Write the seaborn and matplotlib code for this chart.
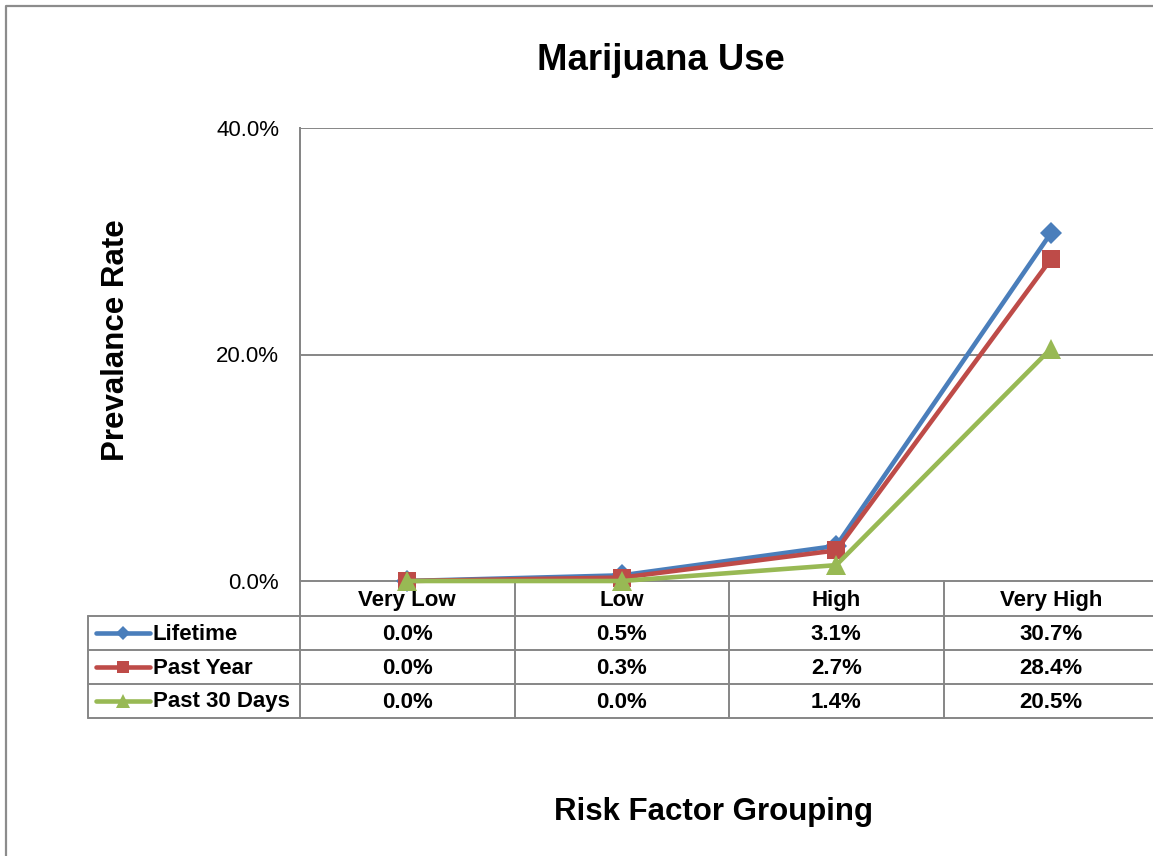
import matplotlib
matplotlib.use("Agg")
import matplotlib.pyplot as plt
import seaborn as sns
import pandas as pd

# Data
categories = ["Very Low", "Low", "High", "Very High"]
lifetime = [0.0, 0.5, 3.1, 30.7]
past_year = [0.0, 0.3, 2.7, 28.4]
past_30_days = [0.0, 0.0, 1.4, 20.5]
series_names = ["Lifetime", "Past Year", "Past 30 Days"]
y_ticks = [0, 20, 40]

colors = {"Lifetime": "#4A7EBB", "Past Year": "#BE4B48", "Past 30 Days": "#98B954"}
markers = {"Lifetime": "D", "Past Year": "s", "Past 30 Days": "^"}
msizes = {"Lifetime": 11, "Past Year": 13, "Past 30 Days": 15}

rows = []
for name, vals in zip(series_names, [lifetime, past_year, past_30_days]):
    for c, v in zip(categories, vals):
        rows.append({"Group": c, "Rate": v, "Series": name})
df = pd.DataFrame(rows)

sns.set_theme(style="white")
plt.rcParams["font.family"] = ["Liberation Sans", "DejaVu Sans"]

W, H = 1153, 856
fig = plt.figure(figsize=(W / 100, H / 100), dpi=100)

# background overlay in pixel coordinates for frame, table and labels
bg = fig.add_axes([0, 0, 1, 1], zorder=0)
bg.set_xlim(0, W)
bg.set_ylim(H, 0)
bg.axis("off")

x0, x1 = 300, 1158
y_top, y_bot = 128, 581
ax = fig.add_axes([x0 / W, 1 - y_bot / H, (x1 - x0) / W, (y_bot - y_top) / H], zorder=2)
ax.patch.set_alpha(0)

sns.lineplot(data=df, x="Group", y="Rate", hue="Series", style="Series",
             palette=colors, markers=markers, dashes=False, sort=False,
             linewidth=3.3, markeredgewidth=0, legend=False, ax=ax)
for line, name in zip(ax.get_lines(), series_names):
    line.set_markersize(msizes[name])
    line.set_clip_on(False)

ax.set_xlim(-0.5, len(categories) - 0.5)
ax.set_ylim(0, 40)
ax.set_yticks(y_ticks)
ax.set_yticklabels([f"{t:.1f}%" for t in y_ticks], fontsize=16, color="#000000")
ax.set_xticks([])
ax.set_xlabel("")
ax.set_ylabel("")
ax.tick_params(axis="y", length=0, pad=15)
for t in y_ticks[1:]:
    ax.axhline(t, color="#868686", lw=1.4, zorder=0)
for s in ["top", "right", "bottom"]:
    ax.spines[s].set_visible(False)
ax.spines["left"].set_color("#868686")
ax.spines["left"].set_linewidth(1.4)

grid = "#868686"
lw = 1.4
# outer chart frame
bg.plot([6, 6, W + 5], [H + 5, 6, 6], color="#8C8C8C", lw=1.6)

# data table
col_w = (x1 - x0) / len(categories)
row_edges = [581, 616, 650, 684, 718]
leg_x = 88
bg.plot([x0, x0], [y_top, row_edges[-1]], color=grid, lw=lw)
bg.plot([x0, x1], [row_edges[0], row_edges[0]], color=grid, lw=lw)
for ye in row_edges[1:]:
    bg.plot([leg_x, x1], [ye, ye], color=grid, lw=lw)
bg.plot([leg_x, leg_x], [row_edges[1], row_edges[-1]], color=grid, lw=lw)
for i in range(1, len(categories) + 1):
    xv = x0 + i * col_w
    bg.plot([xv, xv], [row_edges[0], row_edges[-1]], color=grid, lw=lw)

for i, c in enumerate(categories):
    cx = x0 + (i + 0.5) * col_w
    bg.text(cx, (row_edges[0] + row_edges[1]) / 2 + 2, c, ha="center", va="center",
            fontsize=16, fontweight="bold", color="black")

for r, (name, vals) in enumerate(zip(series_names, [lifetime, past_year, past_30_days])):
    yc = (row_edges[r + 1] + row_edges[r + 2]) / 2
    bg.plot([96, 150], [yc, yc], color=colors[name], lw=3.3, solid_capstyle="round")
    bg.plot([123], [yc], marker=markers[name], color=colors[name],
            markersize=msizes[name] * 0.65, markeredgewidth=0)
    bg.text(153, yc + 1, name, ha="left", va="center", fontsize=16,
            fontweight="bold", color="black")
    for i, v in enumerate(vals):
        cx = x0 + (i + 0.5) * col_w
        bg.text(cx, yc + 1, f"{v:.1f}%", ha="center", va="center", fontsize=16,
                fontweight="bold", color="black")

fig.text(661 / W, 1 - 61 / H, "Marijuana Use", ha="center", va="center",
         fontsize=26.3, fontweight="bold", color="black")
fig.text(713 / W, 1 - 812 / H, "Risk Factor Grouping", ha="center", va="center",
         fontsize=22.5, fontweight="bold", color="black")
fig.text(116 / W, 1 - 340 / H, "Prevalance Rate", ha="center", va="center",
         rotation=90, fontsize=22.5, fontweight="bold", color="black")

fig.savefig("out.png", dpi=100, facecolor="white")
